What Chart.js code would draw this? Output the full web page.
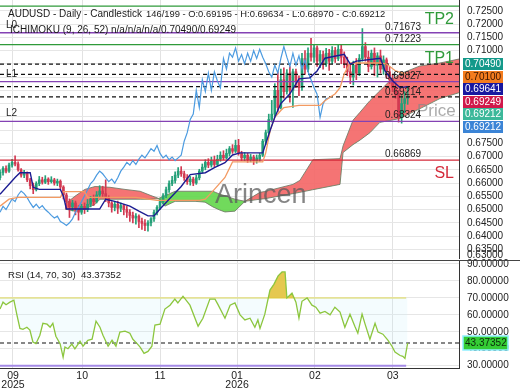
<!DOCTYPE html>
<html>
<head>
<meta charset="utf-8">
<script src="https://cdn.jsdelivr.net/npm/chart.js@4.4.1/dist/chart.umd.min.js"></script>
<style>
html,body{margin:0;padding:0;background:#fff;overflow:hidden;}
#wrap{position:relative;width:520px;height:390px;background:#fff;}
canvas{position:absolute;left:0;}
#main{top:0;}
#rsi{top:259px;}
</style>
</head>
<body>
<div id="wrap">
<canvas id="main" width="520" height="259"></canvas>
<canvas id="rsi" width="520" height="131"></canvas>
</div>
<script>
const FONT = "'Liberation Sans', Arial, Helvetica, sans-serif";

// ---- axis ticks ----
const monthTickIdx = [4.3, 27.2, 53, 78.5, 104.3, 130.1];
const monthLabels = [['09','2025'], '10', '11', ['01','2026'], '02', '03'];
const priceTicks = [0.635,0.640,0.645,0.650,0.655,0.660,0.665,0.670,0.675,0.680,0.685,0.690,0.695,0.700,0.705,0.710,0.715,0.720,0.725];
const rsiTicks = [30,40,50,60,70,80,90];

// ---- candles (AUDUSD daily) ----
const open = [
.6620,.6640,.6655,.6645,.6668,.6678,.6672,.6650,.6630,.6638,
.6612,.6590,.6575,.6598,.6612,.6603,.6615,.6605,.6612,.6600,
.6607,.6585,.6555,.6530,.6510,.6525,.6505,.6490,.6512,.6500,
.6520,.6540,.6530,.6555,.6570,.6560,.6545,.6525,.6508,.6520,
.6505,.6515,.6500,.6490,.6478,.6468,.6475,.6455,.6448,.6440,
.6450,.6465,.6490,.6508,.6530,.6552,.6575,.6598,.6610,.6630,
.6645,.6635,.6620,.6605,.6615,.6600,.6620,.6645,.6660,.6678,
.6668,.6685,.6670,.6690,.6705,.6695,.6712,.6730,.6720,.6742,
.6712,.6695,.6705,.6688,.6698,.6685,.6690,.6705,.6758,.6790,
.6840,.6860,.6950,.6885,.6990,.6945,.7015,.6950,.7020,.6985,
.6960,.7070,.7030,.7090,.7075,.7110,.7060,.7085,.7050,.7090,
.7060,.7100,.7070,.7105,.7075,.7050,.7020,.7000,.7045,.7015,
.7070,.7115,.7075,.7040,.7090,.7045,.7080,.7030,.7065,.7020,
.6990,.6960,.6935,.6848,.6900,.69195];
const high = [
.6650,.6662,.6665,.6675,.6690,.6703,.6680,.6655,.6648,.6642,
.6618,.6600,.6605,.6625,.6622,.6628,.6620,.6624,.6618,.6615,
.6612,.6590,.6562,.6540,.6535,.6532,.6515,.6520,.6525,.6538,
.6550,.6555,.6568,.6590,.6588,.6612,.6552,.6530,.6528,.6532,
.6525,.6520,.6512,.6500,.6490,.6485,.6480,.6468,.6462,.6458,
.6470,.6498,.6515,.6540,.6560,.6585,.6608,.6625,.6642,.6658,
.6662,.6645,.6632,.6625,.6622,.6630,.6652,.6672,.6688,.6692,
.6698,.6702,.6705,.6718,.6722,.6728,.6738,.6745,.6762,.6765,
.6720,.6715,.6712,.6708,.6705,.6706,.6712,.6765,.6800,.6860,
.6912,.6975,.7020,.7030,.7035,.7028,.7040,.7030,.7030,.7005,
.7090,.7100,.7110,.7146,.7120,.7118,.7100,.7098,.7108,.7105,
.7115,.7112,.7122,.7120,.7095,.7075,.7048,.7060,.7070,.7085,
.7183,.7130,.7098,.7102,.7110,.7092,.7102,.7080,.7072,.7040,
.7010,.6985,.6950,.6930,.6945,.69634];
const low = [
.6612,.6630,.6638,.6640,.6660,.6665,.6645,.6622,.6620,.6605,
.6578,.6560,.6570,.6590,.6596,.6598,.6595,.6600,.6592,.6590,
.6578,.6540,.6505,.6470,.6495,.6480,.6460,.6482,.6485,.6492,
.6510,.6515,.6525,.6545,.6548,.6530,.6510,.6490,.6495,.6485,
.6492,.6480,.6470,.6455,.6450,.6445,.6432,.6425,.6420,.6418,
.6438,.6455,.6480,.6500,.6520,.6545,.6565,.6590,.6600,.6620,
.6625,.6610,.6595,.6592,.6590,.6595,.6612,.6638,.6650,.6658,
.6660,.6662,.6665,.6682,.6688,.6690,.6702,.6712,.6715,.6705,
.6685,.6684,.6678,.6680,.6670,.6675,.6682,.6700,.6745,.6785,
.6830,.6850,.6870,.6880,.6920,.6935,.6905,.6885,.6960,.6930,
.6950,.7010,.7020,.7060,.7055,.7040,.7035,.7030,.7040,.7025,
.7050,.7055,.7062,.7050,.7035,.7005,.6975,.6970,.6990,.7005,
.7060,.7060,.7020,.7030,.7005,.7000,.7015,.7010,.6995,.6975,
.6945,.6920,.6830,.6826,.6865,.68970];
const close = [
.6640,.6655,.6645,.6668,.6678,.6672,.6650,.6630,.6638,.6612,
.6590,.6575,.6598,.6612,.6603,.6615,.6605,.6612,.6600,.6607,
.6585,.6555,.6530,.6510,.6525,.6505,.6490,.6512,.6500,.6520,
.6540,.6530,.6555,.6570,.6560,.6545,.6525,.6508,.6520,.6505,
.6515,.6500,.6490,.6478,.6468,.6475,.6455,.6448,.6440,.6450,
.6465,.6490,.6508,.6530,.6552,.6575,.6598,.6610,.6630,.6645,
.6635,.6620,.6605,.6615,.6600,.6620,.6645,.6660,.6678,.6668,
.6685,.6670,.6690,.6705,.6695,.6712,.6730,.6720,.6742,.6712,
.6695,.6705,.6688,.6698,.6685,.6695,.6705,.6758,.6790,.6840,
.6860,.6950,.6885,.6990,.6945,.7015,.6950,.7020,.6985,.6960,
.7070,.7030,.7090,.7075,.7110,.7060,.7085,.7050,.7090,.7060,
.7100,.7070,.7105,.7075,.7050,.7020,.7000,.7045,.7015,.7070,
.7115,.7075,.7040,.7090,.7045,.7080,.7030,.7065,.7020,.6990,
.6960,.6935,.6848,.6900,.6918,.69212];

// ---- Ichimoku (9, 26, 52) ----
const tenkanIdx = [0,5,6.6,10,11,13,20,21,22,33,35,38,43,46,49,51,53,56,60,63,68,71,74.5,77,79.5,87,89.5,91,93,96,99,102.6,105,107.6,114,116,118,126,127.5,130,132.5,135];
const tenkanVal = [.6558,.6621,.6639,.6639,.6584,.6576,.6576,.6550,.6502,.6502,.6539,.6531,.6513,.6494,.6476,.6476,.6502,.6539,.6587,.6632,.6639,.6658,.6677,.6706,.6714,.6714,.6800,.6848,.6900,.6937,.6993,.6997,.7023,.7071,.7086,.7049,.7060,.7071,.7023,.6986,.6960,.69641];
const kijunIdx = [0,3,6,20,21,28,29,45,52,66,68,71,74.5,77,87,88,89.5,91,93,94,99,106,107.6,111,112.6,114,116,126,128,131,135];
const kijunVal = [.6513,.6539,.6546,.6546,.6568,.6568,.6546,.6546,.6535,.6535,.6539,.6576,.6621,.6680,.6680,.6714,.6800,.6848,.6874,.6885,.6893,.6893,.6911,.6937,.6960,.7012,.7053,.7053,.7049,.7023,.7010];
const cloudIdx = [21.5,24.8,28.1,31.5,33.1,36.4,41.4,46.4,49.7,52.3,54.6,58,64.6,67.9,70.5,72.8,74.5,77.8,81.1,86.1,87.7,97,99.3,103.6,112.6,113.6,116.9,119.2,122.5,125.8,129.1,132.5,139.1,145.7,152];
const spanA = [.6520,.6550,.6576,.6587,.6586,.6584,.6576,.6569,.6554,.6543,.6513,.6531,.6531,.6528,.6510,.6498,.6491,.6494,.6531,.6565,.6568,.6595,.6610,.6688,.6692,.6740,.6837,.6867,.6911,.6948,.6986,.7012,.7042,.7053,.7068];
const spanB = [.6502,.6494,.6502,.6520,.6539,.6539,.6539,.6539,.6539,.6541,.6552,.6569,.6569,.6569,.6569,.6558,.6552,.6539,.6531,.6539,.6541,.6560,.6565,.6575,.6595,.6715,.6745,.6762,.6790,.6829,.6836,.6844,.6881,.6919,.6941];
const chikouShift = 26;
const ichiLegend = 'n/a/n/a/n/a/0.70490/0.69249';
const ichiLast = [0.70490, 0.70100, 0.69641, 0.69249];

// ---- levels ----
const levelVals = [0.72680, 0.71673, 0.71223, 0.69827, 0.68324, 0.66869];
const levelNames = ['TP2','L0','TP1','L1','L2','SL'];
const levelKinds = ['tp','l','tp','l','l','sl'];
const valueLabels = [0.71673, 0.71223, 0.69827, 0.69214, 0.68324, 0.66869];
const tagVals = [0.70490, 0.70100, 0.69641, 0.69249, 0.69212, 0.69212];
const tagBg = ['#14998a','#f47c1e','#1818a0','#d0184a','#3bb89a','#3b84d6'];
const tagFg = ['#ffffff','#3a1500','#ffffff','#ffffff','#ffffff','#ffffff'];
const barCounter = '146/199';

// ---- RSI (14, 70, 30) ----
const rsiIdx = [0,1,2,3.3,4.6,5.6,6.6,7.6,8.9,9.9,10.9,11.9,13.2,14.2,15.6,16.6,17.5,18.5,19.9,20.9,21.5,22.5,23.8,24.8,26.5,27.5,29.1,30.5,31.8,33.1,34.1,35.8,37.1,38.4,39.7,41.4,43,44,45.4,46.4,47.7,49,50.3,51.3,53,54.6,56.3,57.9,58.9,60.6,62.9,65.6,67.2,69.5,71.2,72.2,74.5,76.2,77.8,79.5,81.1,82.8,84.4,85.4,86.1,87.7,89.4,90.7,92.1,93.4,94.4,95,96.7,98,99,100,101.7,103.3,104.6,106,107.6,109.3,110.9,112.6,114.2,115.9,117.5,118.5,119.9,120.9,122.5,124.2,125.2,126.8,128.5,129.8,130.8,132.5,133.4,134.1,135];
const rsiVal = [63.4,67.5,66,67.5,68.7,60,52,51.5,52.7,51,44,43,48,55,54.5,52.7,55,47.4,43,35,41,40,42.7,40,44.4,41.5,45,45.6,56.3,52.7,48,41.5,45,41.5,49.8,50.4,49.2,45.6,43,41,37.3,38.4,41.5,54,54.5,63.4,65.7,69.3,67,71,65.7,53.3,58,69.3,69.3,66,58,65.7,67,60,57,58,52.7,57,52,60.4,74.6,78,83,85.3,85.3,70,72.8,67.5,58,68,70,65.7,64.5,61,62,60,64.5,61.6,52.7,60.4,53.3,49.2,60.4,54.5,45.6,55,49.8,48.6,45,41.5,38,36,35.5,34.3,43.37352];
const rsiUpper = 70, rsiLower = 30;

// =====================================================
const XMAX = 152;
const lastIdx = close.length - 1;
const candleColor = close.map((c,i) => c >= open[i] ? '#24a078' : '#d23a52');
const levelColor = {tp:'#2f9a3a', l:'#8442b4', sl:'#d42a3a'};

function hLine(v, x1, color, width, dash, order) {
  return {type:'line', data:[{x:0,y:v},{x:x1,y:v}], borderColor:color, borderWidth:width,
    borderDash:dash||[], pointRadius:0, fill:false, order:order};
}
function pairs(xs, ys) { return xs.map((x,k) => ({x:x, y:ys[k]})); }

function xScale(showTicks, height) {
  return {
    type:'linear', min:0, max:XMAX, offset:false,
    afterBuildTicks: s => { s.ticks = monthTickIdx.map(v => ({value:v})); },
    afterFit: s => { s.height = height; s.paddingLeft = 0; s.paddingRight = 0; },
    grid:{color:'#e2e2e2', drawTicks:false, offset:false},
    border:{display: showTicks, color:'#333'},
    ticks:{display: showTicks, autoSkip:false, maxRotation:0, padding:3, color:'#222',
      font:{family:FONT, size:10.5, lineHeight:0.9},
      callback:(v,i) => monthLabels[i]}
  };
}
function yTicks(fmt) {
  return {padding:8, autoSkip:false, color:'#222', font:{family:FONT, size:10}, callback: v => Number(v).toFixed(5)};
}

// ---------- main panel ----------
const mainDatasets = [];
mainDatasets.push({type:'line', data:pairs(cloudIdx, spanA), borderColor:'rgba(110,120,100,0.85)', borderWidth:1,
  pointRadius:0, tension:0, fill:{target:'+1', above:'rgba(244,104,104,0.92)', below:'rgba(98,214,74,0.9)'}, order:20});
mainDatasets.push({type:'line', data:pairs(cloudIdx, spanB), borderColor:'rgba(110,120,100,0.85)', borderWidth:1,
  pointRadius:0, tension:0, fill:false, order:19});
mainDatasets.push({type:'bar', data:close.map((c,i)=>({x:i, y:[low[i], high[i]]})), backgroundColor:candleColor,
  barThickness:1, grouped:false, borderWidth:0, order:12});
mainDatasets.push({type:'bar', data:close.map((c,i)=>({x:i, y:[open[i], c]})), backgroundColor:candleColor,
  barThickness:2, minBarLength:1, grouped:false, borderWidth:0, order:11});
levelVals.forEach((v,k) => mainDatasets.push(hLine(v, XMAX, levelColor[levelKinds[k]], 1.3, null, 8)));
ichiLast.forEach(v => mainDatasets.push(hLine(v, XMAX, '#111', 1.2, [4,3], 7)));
mainDatasets.push({type:'line', data:close.slice(chikouShift).map((c,k)=>({x:k, y:c})), borderColor:'#4c9be0',
  borderWidth:1.2, pointRadius:0, tension:0, fill:false, order:3});
mainDatasets.push({type:'line', data:pairs(kijunIdx, kijunVal), borderColor:'#f39a62', borderWidth:1.3,
  pointRadius:0, tension:0, fill:false, order:2});
mainDatasets.push({type:'line', data:pairs(tenkanIdx, tenkanVal), borderColor:'#1c1c92', borderWidth:1.4,
  pointRadius:0, tension:0, fill:false, order:1});

const mainOverlay = {
  id:'mainOverlay',
  afterDatasetsDraw(chart) {
    const ctx = chart.ctx;
    ctx.save();
    ctx.textAlign = 'left'; ctx.textBaseline = 'alphabetic';
    ctx.fillStyle = 'rgba(92,92,92,0.75)';
    ctx.font = '27px ' + FONT;
    ctx.fillText('Arincen', 215, 203);
    ctx.fillStyle = 'rgba(135,135,135,0.7)';
    ctx.font = '17px ' + FONT;
    ctx.fillText('Price', 417, 116);
    ctx.restore();
  },
  afterDraw(chart) {
    const ctx = chart.ctx, y = chart.scales.y;
    ctx.save();
    ctx.textAlign = 'left'; ctx.textBaseline = 'alphabetic';
    ctx.fillStyle = '#1a1a1a';
    ctx.font = '10px ' + FONT;
    ctx.fillText('AUDUSD - Daily - Candlestick', 8, 17);
    ctx.font = '9.4px ' + FONT;
    ctx.fillText(barCounter + ' - O:' + open[lastIdx].toFixed(5) + ' - H:' + high[lastIdx].toFixed(5) +
      ' - L:' + low[lastIdx].toFixed(5) + ' - C:' + close[lastIdx].toFixed(5), 146, 17);
    ctx.font = '10px ' + FONT;
    ctx.fillText('ICHIMOKU (9, 26, 52)', 10, 33);
    ctx.fillText(ichiLegend, 111, 33);
    // level names at left / TP-SL at right
    levelVals.forEach((v,k) => {
      const py = y.getPixelForValue(v);
      if (levelKinds[k] === 'l') {
        ctx.fillStyle = '#222'; ctx.font = '10px ' + FONT; ctx.textAlign = 'left'; ctx.textBaseline = 'alphabetic';
        ctx.fillText(levelNames[k], 6, py - 5);
      } else {
        ctx.fillStyle = levelColor[levelKinds[k]]; ctx.font = '16px ' + FONT; ctx.textAlign = 'right'; ctx.textBaseline = 'top';
        ctx.fillText(levelNames[k], 454, py + 6);
      }
    });
    // value labels
    ctx.fillStyle = '#222'; ctx.font = '10px ' + FONT; ctx.textAlign = 'left'; ctx.textBaseline = 'alphabetic';
    valueLabels.forEach(v => ctx.fillText(v.toFixed(5), 385, y.getPixelForValue(v) - 3));
    // extra clipped axis label at the bottom edge
    ctx.fillStyle = '#222';
    ctx.textBaseline = 'middle';
    ctx.fillText('0.63000', 467, 255);
    // right-hand value tags
    let prev = -1e9;
    tagVals.forEach((v,k) => {
      const py = Math.max(y.getPixelForValue(v), prev + 12.5);
      prev = py;
      ctx.fillStyle = tagBg[k];
      ctx.fillRect(463, Math.round(py - 6), 40, 12);
      ctx.fillStyle = tagFg[k];
      ctx.textBaseline = 'middle';
      ctx.fillText(v.toFixed(5), 465, Math.round(py) + 0.5);
    });
    ctx.restore();
  }
};

new Chart(document.getElementById('main'), {
  type:'bar',
  data:{datasets: mainDatasets},
  options:{
    responsive:false, animation:false, devicePixelRatio:1, events:[],
    layout:{padding:0},
    plugins:{legend:{display:false}, tooltip:{enabled:false}},
    scales:{
      x: xScale(false, 0),
      y: {
        type:'linear', position:'right', min:0.63134, max:0.72908,
        afterBuildTicks: s => { s.ticks = priceTicks.map(v => ({value:v})); },
        afterFit: s => { s.width = 61; s.paddingTop = 0; s.paddingBottom = 0; },
        grid:{color:'#e6e6e6', drawTicks:false},
        border:{display:true, color:'#333'},
        ticks: yTicks()
      }
    }
  },
  plugins:[mainOverlay]
});

// ---------- RSI panel ----------
const rsiOverlay = {
  id:'rsiOverlay',
  afterDraw(chart) {
    const ctx = chart.ctx, y = chart.scales.y;
    ctx.save();
    ctx.strokeStyle = '#444'; ctx.lineWidth = 1;
    ctx.beginPath(); ctx.moveTo(0, 1.5); ctx.lineTo(520, 1.5); ctx.stroke();
    ctx.fillStyle = '#1a1a1a'; ctx.font = '9.6px ' + FONT;
    ctx.textAlign = 'left'; ctx.textBaseline = 'alphabetic';
    ctx.fillText('RSI (14, 70, 30)', 8, 18.5);
    const last = rsiVal[rsiVal.length - 1];
    ctx.fillText(last.toFixed(5), 81, 18.5);
    const py = Math.round(y.getPixelForValue(last));
    ctx.fillStyle = '#34cc34';
    ctx.fillRect(463, py - 7, 45, 14);
    ctx.strokeStyle = '#8ef0ff'; ctx.lineWidth = 1.5;
    ctx.strokeRect(463, py - 7, 45, 14);
    ctx.fillStyle = '#0b2a0b'; ctx.textBaseline = 'middle'; ctx.font = '10px ' + FONT;
    ctx.fillText(last.toFixed(5), 465, py + 0.5);
    ctx.restore();
  }
};

new Chart(document.getElementById('rsi'), {
  type:'line',
  data:{datasets:[
    {data:pairs(rsiIdx, rsiVal), borderColor:'#8cc63e', borderWidth:1.3, pointRadius:0, tension:0,
     fill:{target:{value:rsiUpper}, above:'rgba(226,194,60,0.9)', below:'rgba(200,242,252,0.2)'}, order:1},
    hLine(rsiUpper, 134.5, '#e6df7c', 1.5, null, 3),
    hLine(rsiLower, 134.5, '#a48ae6', 2, null, 3),
    hLine(rsiVal[rsiVal.length - 1], XMAX, '#111', 1.1, [4,3], 2)
  ]},
  options:{
    responsive:false, animation:false, devicePixelRatio:1, events:[],
    layout:{padding:{top:1, left:0, right:0, bottom:0}},
    plugins:{legend:{display:false}, tooltip:{enabled:false}},
    scales:{
      x: xScale(true, 22),
      y: {
        type:'linear', position:'right', min:28.64, max:92.36,
        afterBuildTicks: s => { s.ticks = rsiTicks.map(v => ({value:v})); },
        afterFit: s => { s.width = 61; s.paddingTop = 0; s.paddingBottom = 0; },
        grid:{color:'#e6e6e6', drawTicks:false},
        border:{display:true, color:'#333'},
        ticks: yTicks()
      }
    }
  },
  plugins:[rsiOverlay]
});
</script>
</body>
</html>
